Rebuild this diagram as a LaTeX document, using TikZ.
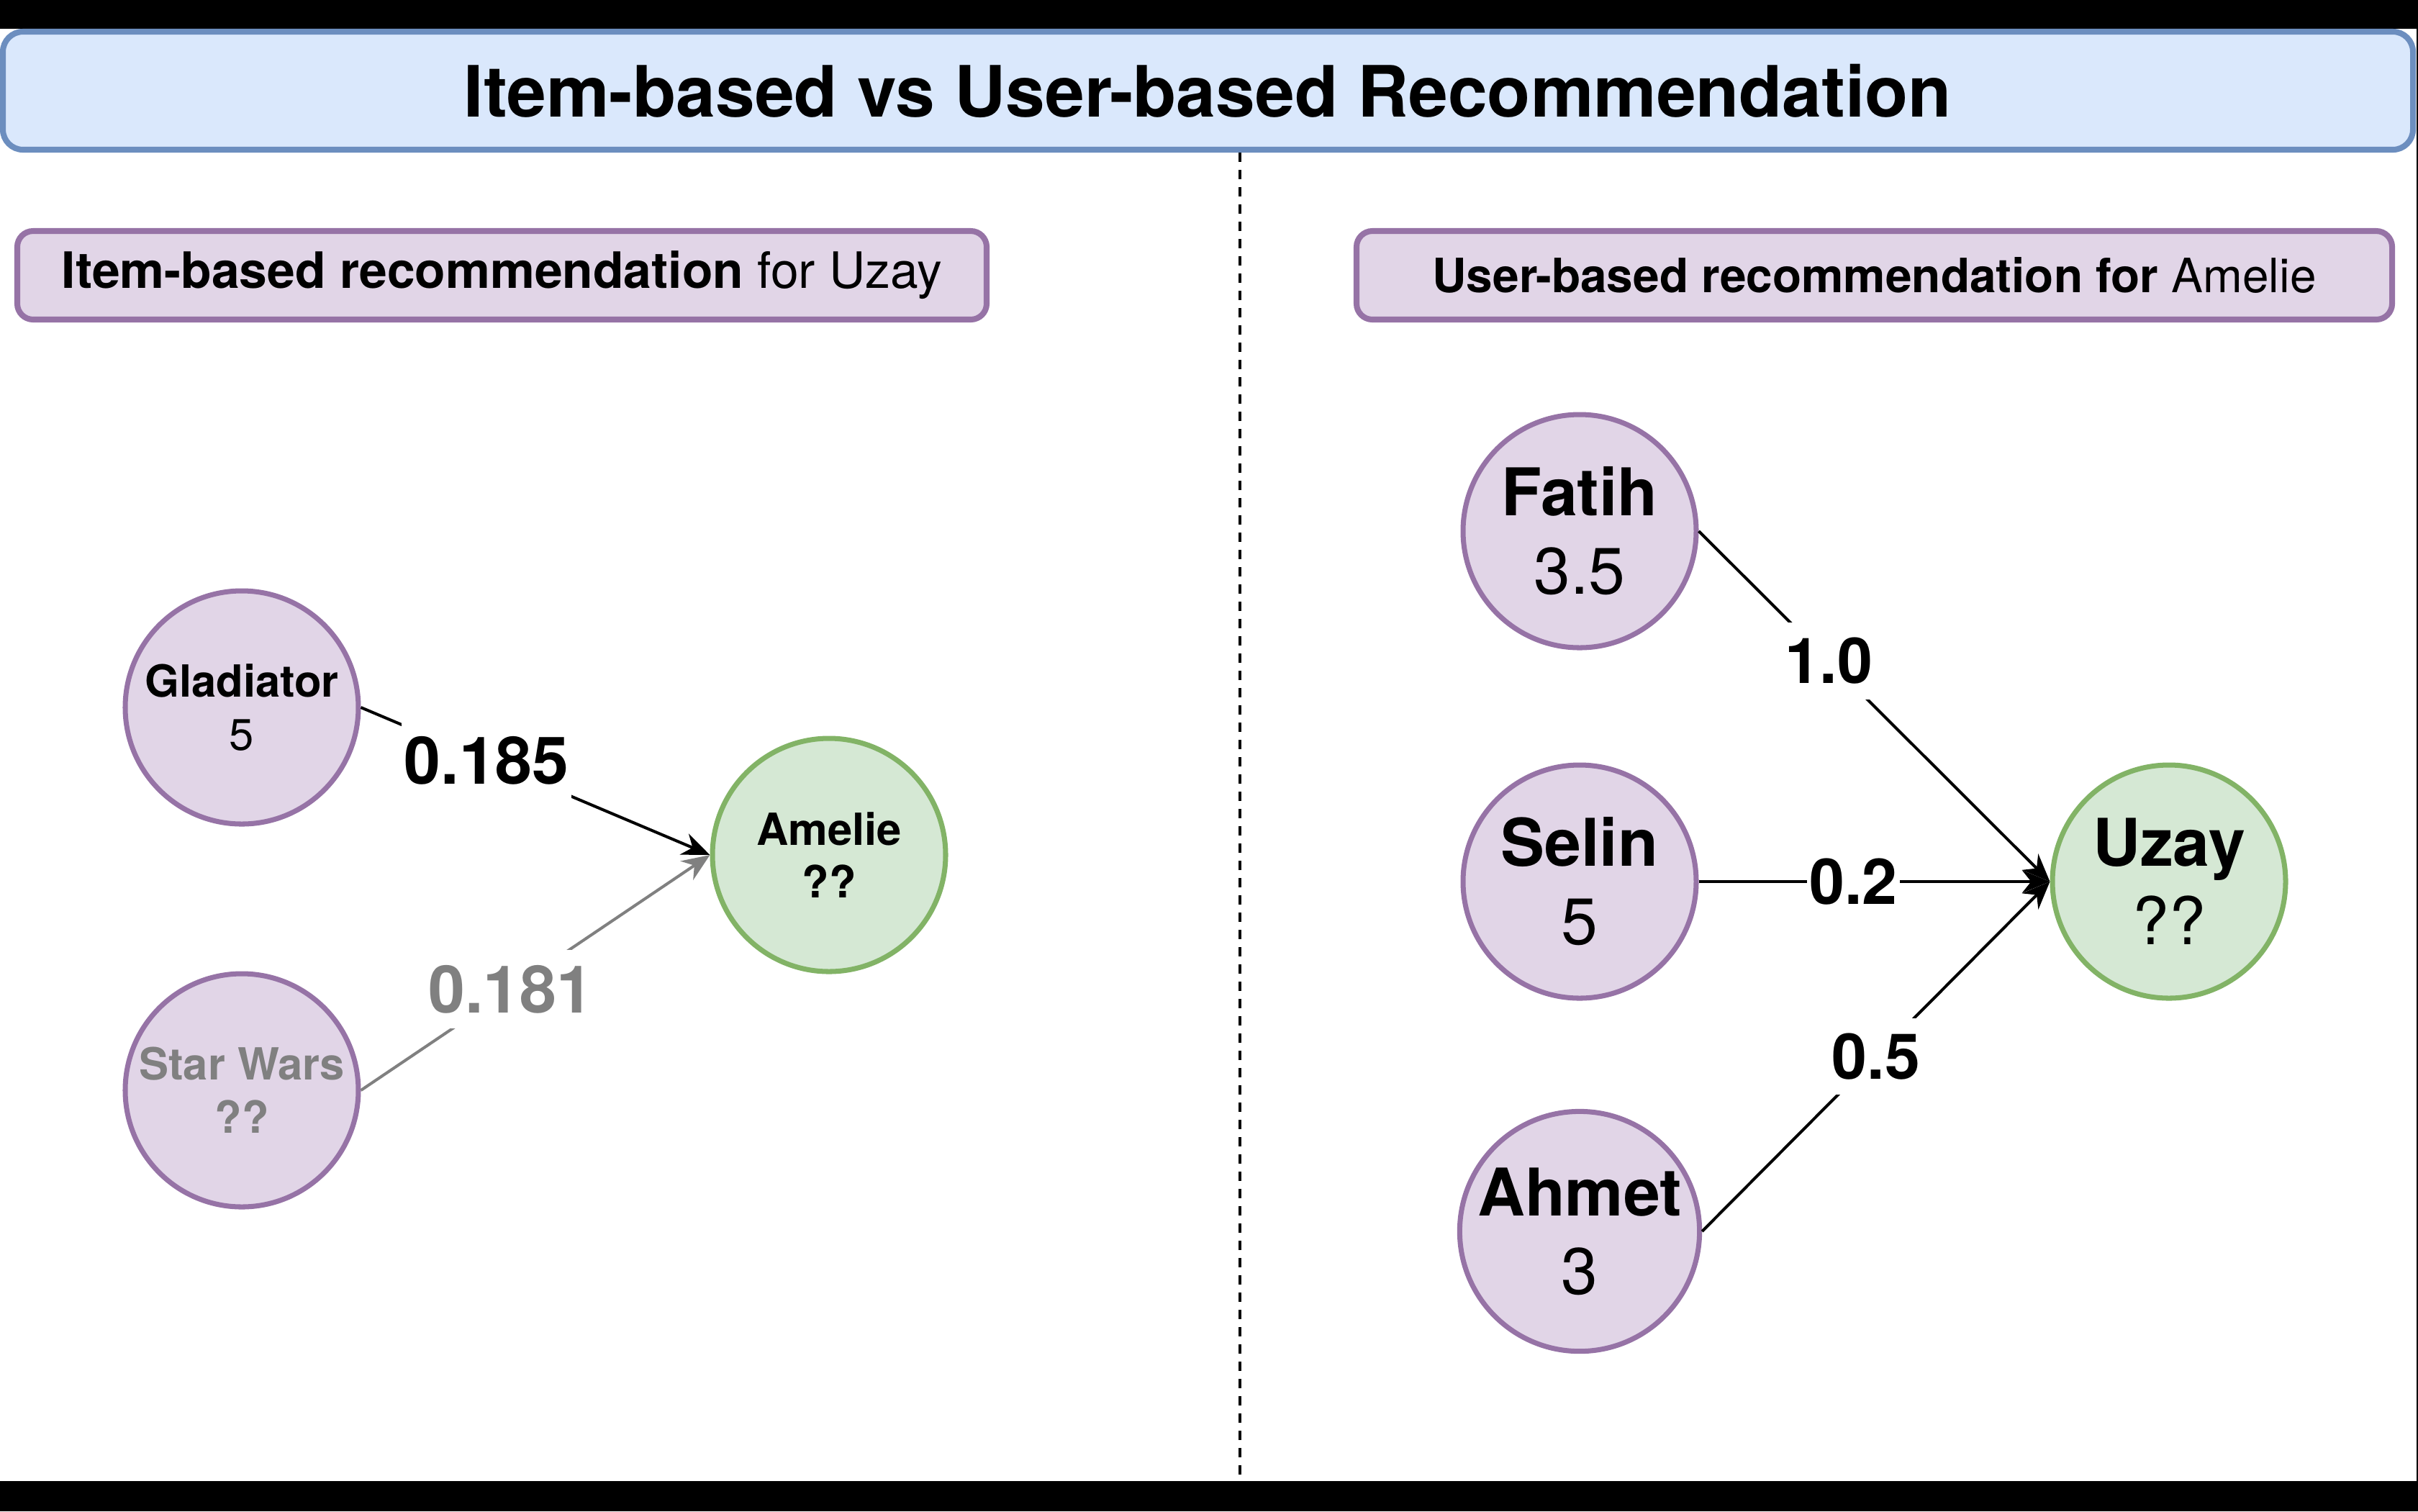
\documentclass[tikz,border=0pt]{standalone}
\usepackage{fontspec}
\setmainfont{TeX Gyre Heros}
\usetikzlibrary{arrows.meta}
\definecolor{purpfill}{HTML}{E1D5E7}
\definecolor{purpline}{HTML}{9673A6}
\definecolor{greenfill}{HTML}{D5E8D4}
\definecolor{greenline}{HTML}{82B366}
\definecolor{bluefill}{HTML}{DAE8FC}
\definecolor{blueline}{HTML}{6C8EBF}
\definecolor{dimgray}{HTML}{808080}
\begin{document}
\begin{tikzpicture}[>={Stealth[length=11pt, width=9pt]}, line width=1.15pt,
    movie/.style={circle, draw=purpline, fill=purpfill, line width=2pt, minimum size=3.24cm, inner sep=0pt, align=center, font=\fontsize{17.5}{21}\selectfont},
    person/.style={movie, font=\fontsize{26}{31}\selectfont},
    target/.style={draw=greenline, fill=greenfill},
    header/.style={draw=purpline, fill=purpfill, rounded corners=0.22cm, line width=2.3pt, minimum height=1.23cm},
    weight/.style={fill=white, inner xsep=1pt, inner ysep=6pt, font=\fontsize{26}{31}\selectfont\bfseries}]

\useasboundingbox (0,0) rectangle (33.6,-21);
\fill[black] (0,0) rectangle (33.6,-0.4);
\fill[black] (0,-20.58) rectangle (33.6,-21);
\fill[black] (33.58,0) rectangle (33.6,-21);

\node[draw=blueline, fill=bluefill, rounded corners=0.28cm, line width=2.3pt, minimum width=33.49cm, minimum height=1.64cm, font=\fontsize{28}{34}\selectfont\bfseries] at (16.785,-1.26) (title) {Item-based vs User-based Recommendation};
\draw[dashed, dash pattern=on 0.13cm off 0.11cm, line width=0.9pt] (17.23,-2.12) -- (17.23,-20.58);

\node[header, minimum width=13.47cm, font=\fontsize{19.8}{24}\selectfont] at (6.975,-3.825)  (ihead) {\textbf{Item-based recommendation} for Uzay};
\node[header, minimum width=14.39cm, font=\fontsize{18.7}{23}\selectfont] at (26.045,-3.825) (uhead) {\textbf{User-based recommendation for} Amelie};

\node[movie] at (3.36,-9.83)            (glad)   {\textbf{Gladiator}\\5};
\node[movie, text=dimgray] at (3.36,-15.15) (starw) {\textbf{Star Wars}\\\textbf{??}};
\node[movie, target] at (11.52,-11.88)  (amelie) {\textbf{Amelie}\\\textbf{??}};

\node[person] at (21.95,-7.38)          (fatih) {\textbf{Fatih}\\3.5};
\node[person] at (21.95,-12.25)         (selin) {\textbf{Selin}\\5};
\node[person] at (21.95,-17.11)         (ahmet) {\textbf{Ahmet}\\3};
\node[person, target] at (30.14,-12.25) (uzay)  {\textbf{Uzay}\\??};

\path[->]
	(glad.east) edge node[weight, pos=0.36] {0.185} (amelie.west)
	(starw.east) edge [dimgray] node[weight, pos=0.43, text=dimgray] {0.181} (amelie.west)
	(fatih.east) edge node[weight, pos=0.37, font=\fontsize{25}{30}\selectfont\bfseries] {1.0} (uzay.west)
	(selin.east) edge node[weight, pos=0.44, font=\fontsize{25}{30}\selectfont\bfseries] {0.2} (uzay.west)
	(ahmet.east) edge node[weight, pos=0.5, font=\fontsize{25}{30}\selectfont\bfseries] {0.5} (uzay.west);

\end{tikzpicture}
\end{document}
